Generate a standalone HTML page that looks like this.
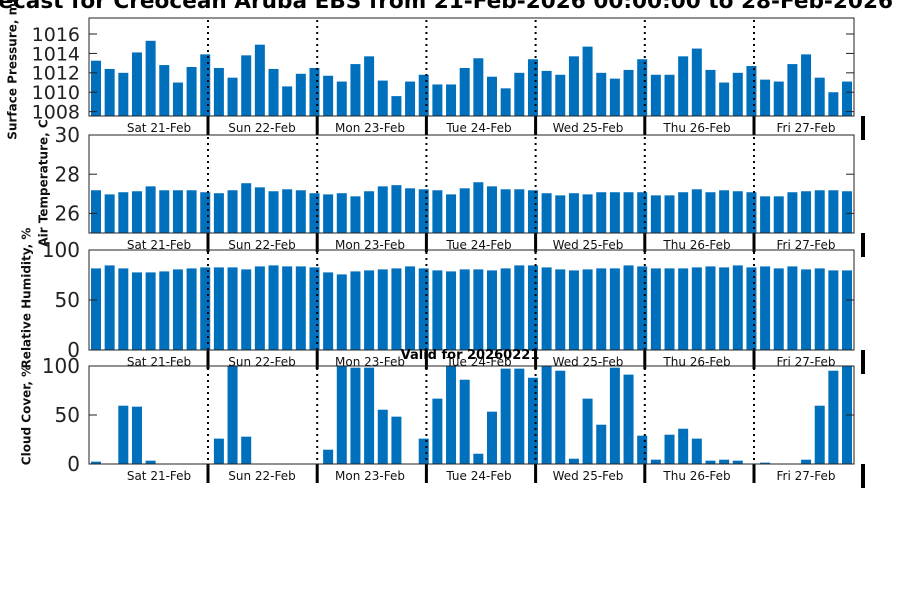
<!DOCTYPE html>
<html><head><meta charset="utf-8"><style>
html,body{margin:0;padding:0;background:#fff;}
svg{display:block;font-family:"DejaVu Sans","Liberation Sans",sans-serif;}
</style></head><body>
<svg id="chart" width="900" height="600" viewBox="0 0 900 600" xmlns="http://www.w3.org/2000/svg">
<text x="893" y="8" text-anchor="end" font-size="21.6" font-weight="bold" fill="#000">Forecast for Creocean Aruba EBS from 21-Feb-2026 00:00:00 to 28-Feb-2026</text>
<g id="panels"></g>
<text x="470" y="359" text-anchor="middle" font-size="13" font-weight="bold" fill="#000">Valid for 20260221</text>
</svg>
<script>
const days = ["Sat 21-Feb","Sun 22-Feb","Mon 23-Feb","Tue 24-Feb","Wed 25-Feb","Thu 26-Feb","Fri 27-Feb"];
const pressure = [1013.25,1012.4,1012.0,1014.1,1015.3,1012.8,1011.0,1012.6,1013.9,1012.5,1011.5,1013.8,1014.9,1012.4,1010.6,1011.9,1012.5,1011.7,1011.1,1012.9,1013.7,1011.2,1009.6,1011.1,1011.8,1010.8,1010.8,1012.5,1013.5,1011.6,1010.4,1012.0,1013.4,1012.2,1011.8,1013.7,1014.7,1012.0,1011.4,1012.3,1013.4,1011.8,1011.8,1013.7,1014.5,1012.3,1011.0,1012.0,1012.7,1011.3,1011.1,1012.9,1013.9,1011.5,1010.0,1011.1];
const temperature = [27.18,26.97,27.08,27.13,27.38,27.18,27.18,27.18,27.08,27.03,27.18,27.54,27.33,27.13,27.23,27.18,27.03,26.97,27.03,26.87,27.13,27.38,27.44,27.28,27.23,27.18,26.97,27.28,27.59,27.38,27.23,27.23,27.18,27.03,26.92,27.03,26.97,27.08,27.08,27.08,27.08,26.92,26.92,27.08,27.23,27.08,27.18,27.13,27.08,26.87,26.87,27.08,27.13,27.18,27.18,27.13];
const humidity = [81.6,84.6,81.6,77.6,77.6,78.6,80.6,81.6,82.6,82.6,82.6,80.6,83.6,84.6,83.6,83.6,82.6,77.6,75.6,78.6,79.6,80.6,81.6,83.6,81.6,79.6,78.6,80.6,80.6,79.6,81.6,84.6,84.6,82.6,80.6,79.6,80.6,81.6,81.6,84.6,83.6,81.6,81.6,81.6,82.6,83.6,82.6,84.6,82.6,83.6,81.6,83.6,80.6,81.6,79.6,79.6];
const cloud = [2.4,0,59.5,58.5,3.4,0,0,0,0,25.9,100,27.9,0,0,0,0,0,14.6,100,98.3,98.3,55.4,48.3,0,25.9,66.7,100,86,10.5,53.4,97.3,97.3,88,100,95.2,5.4,66.7,40.1,98.3,91.2,28.9,4.4,29.9,36,25.9,3.4,4.4,3.4,0,1.4,0,0,4.4,59.5,95.2,100];
const pressureTicks = [1008,1010,1012,1014,1016];
const tempTicks = [26,28,30];
const pctTicks = [0,50,100];

const NS="http://www.w3.org/2000/svg";
const root=document.getElementById('panels');
function mk(tag,attrs,parent){const e=document.createElementNS(NS,tag);for(const k in attrs)e.setAttribute(k,attrs[k]);(parent||root).appendChild(e);return e;}
const X0=89,X1=854;
function xBar(i){return 96+i*13.655;}
const dividers=[208,317.2,426.4,535.6,644.8,754];
const labelX=[159,262,370,479,588,697,806];

const panels=[
 {name:"pressure",data:pressure,ticks:pressureTicks,min:1007.55,max:1017.65,top:18,bot:116,label:"Surface Pressure, mb",lx:13,ly:67,tf:19},
 {name:"temperature",data:temperature,ticks:tempTicks,min:25,max:30,top:135,bot:233,label:"Air Temperature, C",lx:44,ly:183,tf:20},
 {name:"humidity",data:humidity,ticks:pctTicks,min:0,max:100,top:250,bot:350,label:"Relative Humidity, %",lx:27,ly:298,tf:20},
 {name:"cloud-cover",data:cloud,ticks:pctTicks,min:0,max:100,top:366,bot:464,label:"Cloud Cover, %",lx:27,ly:415,tf:20}
];
panels.forEach(p=>{
  const g=mk('g',{});
  
  
  const y=v=>p.bot-(v-p.min)/(p.max-p.min)*(p.bot-p.top);
  p.data.forEach((v,i)=>{
    const yt=Math.max(p.top,y(v));
    const h=p.bot-yt;
    if(h<=0)return;
    const r=mk('rect',{x:xBar(i)-5,y:yt,width:10,height:h,fill:'#0070bd'},g);
    
    
  });
  dividers.forEach(dx=>{
    const l=mk('line',{x1:dx,x2:dx,y1:p.top+2,y2:p.bot,stroke:'#000','stroke-width':2,'stroke-dasharray':'2 4'},g);
    
    
    const t=mk('line',{x1:dx,x2:dx,y1:p.bot,y2:p.bot+19,stroke:'#000','stroke-width':3},g);
    
    
  });
  const rt=mk('line',{x1:863,x2:863,y1:p.bot,y2:p.bot+24,stroke:'#000','stroke-width':4},g);
  
  
  const fr=mk('rect',{x:X0,y:p.top,width:X1-X0,height:p.bot-p.top,fill:'none',stroke:'#222','stroke-width':1},g);
  
  
  p.ticks.forEach(tv=>{
    const ty=y(tv);
    mk('line',{x1:X0,x2:X0+8,y1:ty,y2:ty,stroke:'#222'},g);
    mk('line',{x1:X1-8,x2:X1,y1:ty,y2:ty,stroke:'#222'},g);
    const tl=mk('text',{x:80,y:ty+p.tf*0.36,'text-anchor':'end','font-size':p.tf,fill:'#222'},g);
    tl.textContent=tv;
    
    
  });
  days.forEach((d,i)=>{
    const t=mk('text',{x:labelX[i],y:p.bot+16,'text-anchor':'middle','font-size':12,fill:'#111'},g);
    t.textContent=d;
    
    
  });
  const yl=mk('text',{x:p.lx,y:p.ly,'text-anchor':'middle','font-size':12,'font-weight':'bold',fill:'#111',transform:`rotate(-90 ${p.lx} ${p.ly})`,'dominant-baseline':'middle'},g);
  yl.textContent=p.label;
  
  
});
</script>
</body></html>
